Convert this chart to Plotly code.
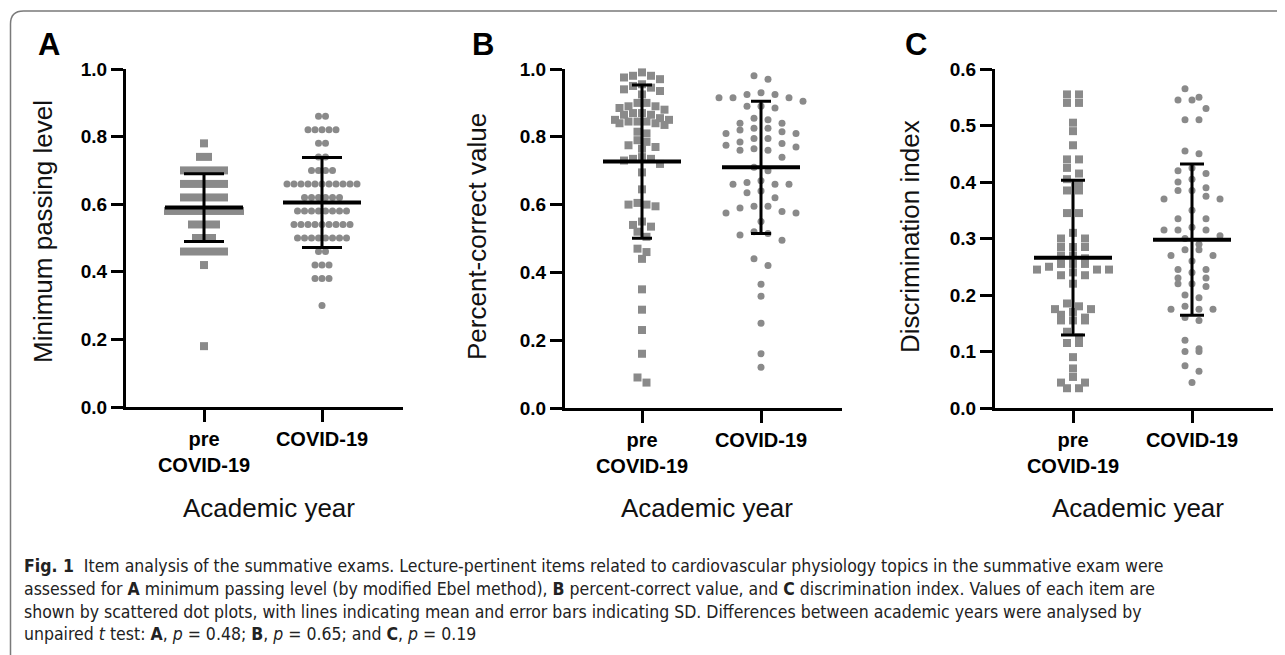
import plotly.graph_objects as go

W, H = 1285, 655
OFF = 8  # page body margin of the exported HTML

# ---------------- data ----------------
categories = ["pre<br>COVID-19", "COVID-19"]

# A: minimum passing level
mpl_pre = [0.78, 0.74, 0.74,
           0.70, 0.70, 0.70, 0.70, 0.70, 0.70,
           0.66, 0.66, 0.66, 0.66, 0.66, 0.66,
           0.62, 0.62, 0.62, 0.62, 0.62, 0.62,
           0.58, 0.58, 0.58, 0.58, 0.58, 0.58, 0.58, 0.58, 0.58, 0.58,
           0.54, 0.54, 0.54, 0.54,
           0.50, 0.50, 0.50,
           0.46, 0.46, 0.46, 0.46, 0.46, 0.46,
           0.42, 0.18]
mpl_covid = [0.86, 0.86,
             0.82, 0.82, 0.82, 0.82, 0.82,
             0.78, 0.78, 0.74, 0.74,
             0.70, 0.70, 0.70, 0.70,
             0.66, 0.66, 0.66, 0.66, 0.66, 0.66, 0.66, 0.66, 0.66, 0.66, 0.66,
             0.62, 0.62, 0.62, 0.62, 0.62, 0.62,
             0.58, 0.58, 0.58, 0.58, 0.58, 0.58, 0.58, 0.58,
             0.54, 0.54, 0.54, 0.54, 0.54, 0.54, 0.54, 0.54, 0.54,
             0.50, 0.50, 0.50, 0.50, 0.50, 0.50, 0.50, 0.50,
             0.46, 0.46, 0.42, 0.42, 0.42, 0.38, 0.38, 0.38, 0.30]
mpl_mean = [0.59, 0.605]
mpl_sd = [0.10, 0.133]

# B: percent-correct value
pcv_pre = [0.99, 0.98, 0.98, 0.975, 0.97, 0.955, 0.95, 0.945, 0.94, 0.935,
           0.925, 0.90, 0.90, 0.89, 0.89, 0.885, 0.88, 0.87, 0.87, 0.865,
           0.865, 0.855, 0.85, 0.85, 0.845, 0.845, 0.845, 0.84, 0.84, 0.835,
           0.815, 0.81, 0.79, 0.785, 0.775, 0.77, 0.765, 0.74, 0.735, 0.735,
           0.73, 0.72, 0.695, 0.645, 0.605, 0.60, 0.60, 0.595, 0.55, 0.54,
           0.535, 0.52, 0.505, 0.47, 0.46, 0.44, 0.35, 0.29, 0.23, 0.16,
           0.09, 0.075]
pcv_covid = [0.98, 0.97, 0.93, 0.925, 0.925, 0.915, 0.915, 0.915, 0.905, 0.89,
             0.89, 0.885, 0.855, 0.85, 0.84, 0.84, 0.825, 0.825, 0.82, 0.815,
             0.81, 0.81, 0.795, 0.795, 0.785, 0.78, 0.775, 0.77, 0.765, 0.76,
             0.76, 0.74, 0.71, 0.70, 0.67, 0.665, 0.66, 0.66, 0.66, 0.64,
             0.635, 0.62, 0.595, 0.595, 0.59, 0.58, 0.575, 0.575, 0.55, 0.52,
             0.515, 0.51, 0.495, 0.44, 0.42, 0.365, 0.33, 0.25, 0.16, 0.12]
pcv_mean = [0.727, 0.71]
pcv_sd = [0.226, 0.195]

# C: discrimination index
di_pre = [0.555, 0.555, 0.54, 0.54, 0.505, 0.49, 0.465, 0.44, 0.44, 0.425,
          0.415, 0.405, 0.395, 0.385, 0.385, 0.345, 0.345, 0.31, 0.30, 0.30,
          0.285, 0.285, 0.285, 0.27, 0.27, 0.265, 0.255, 0.255, 0.255, 0.25,
          0.245, 0.245, 0.245, 0.24, 0.235, 0.235, 0.22, 0.185, 0.18, 0.175,
          0.175, 0.17, 0.165, 0.16, 0.155, 0.155, 0.155, 0.135, 0.125, 0.115,
          0.115, 0.09, 0.07, 0.055, 0.045, 0.045, 0.035, 0.035]
di_covid = [0.565, 0.55, 0.545, 0.545, 0.53, 0.51, 0.51, 0.455, 0.45, 0.425,
            0.42, 0.415, 0.405, 0.40, 0.39, 0.385, 0.385, 0.375, 0.37, 0.37,
            0.35, 0.335, 0.335, 0.32, 0.315, 0.315, 0.315, 0.305, 0.30, 0.29,
            0.28, 0.28, 0.27, 0.27, 0.26, 0.245, 0.245, 0.24, 0.23, 0.23,
            0.22, 0.22, 0.215, 0.20, 0.195, 0.18, 0.175, 0.175, 0.175, 0.16,
            0.155, 0.12, 0.105, 0.10, 0.10, 0.075, 0.065, 0.045]
di_mean = [0.266, 0.298]
di_sd = [0.137, 0.134]

ticks_A = [0.0, 0.2, 0.4, 0.6, 0.8, 1.0]
ticks_B = [0.0, 0.2, 0.4, 0.6, 0.8, 1.0]
ticks_C = [0.0, 0.1, 0.2, 0.3, 0.4, 0.5, 0.6]

y_titles = ["Minimum passing level", "Percent-correct value", "Discrimination index"]
x_title = "Academic year"
letters = ["A", "B", "C"]

caption_lines = [
    "<b>Fig. 1</b>  Item analysis of the summative exams. Lecture-pertinent items related to cardiovascular physiology topics in the summative exam were",
    "assessed for <b>A</b> minimum passing level (by modified Ebel method), <b>B</b> percent-correct value, and <b>C</b> discrimination index. Values of each item are",
    "shown by scattered dot plots, with lines indicating mean and error bars indicating SD. Differences between academic years were analysed by",
    "unpaired <i>t</i> test: <b>A</b>, <i>p</i> = 0.48; <b>B</b>, <i>p</i> = 0.65; and <b>C</b>, <i>p</i> = 0.19",
]

# ---------------- layout geometry (screen pixels) ----------------
panels = [
    dict(vals=(mpl_pre, mpl_covid), mean=mpl_mean, sd=mpl_sd, ticks=ticks_A, ymax=1.0,
         x0=126, x1=403, c0=204, c1=322, ytop=69, ybot=407,
         sp=(8, 7), bin=(8, 8), cap=20, letter_x=49, ytitle_x=43, ytitle_y=232),
    dict(vals=(pcv_pre, pcv_covid), mean=pcv_mean, sd=pcv_sd, ticks=ticks_B, ymax=1.0,
         x0=565, x1=842, c0=642, c1=761, ytop=69, ybot=408,
         sp=(9, 14), bin=(8, 10), cap=10, letter_x=483, ytitle_x=477, ytitle_y=237),
    dict(vals=(di_pre, di_covid), mean=di_mean, sd=di_sd, ticks=ticks_C, ymax=0.6,
         x0=995, x1=1273, c0=1073, c1=1192, ytop=69, ybot=408,
         sp=(12, 14), bin=(8, 10), cap=12, letter_x=916, ytitle_x=910, ytitle_y=236),
]

GREY = "#8a8a8a"
FONT = "Liberation Sans, Arial, sans-serif"


def px(x):
    return (x - OFF) / W


def py(y):
    return 1 - (y - OFF) / H


def swarm(values, ypx_per_unit, xpx_per_unit, spacing_px, bin_px):
    order = sorted(range(len(values)), key=lambda i: -values[i])
    bins = []
    for i in order:
        if bins and (values[bins[-1][0]] - values[i]) * ypx_per_unit < bin_px:
            bins[-1].append(i)
        else:
            bins.append([i])
    offs = [0.0] * len(values)
    for b in bins:
        n = len(b)
        slots = [(k - (n - 1) / 2) * spacing_px for k in range(n)]
        slots.sort(key=lambda s: (abs(s), s))
        for i, s in zip(b, slots):
            offs[i] = s / xpx_per_unit
    return offs


fig = go.Figure()
layout = dict(width=W, height=H, margin=dict(l=0, r=0, t=0, b=0, pad=0, autoexpand=False),
              paper_bgcolor="white", plot_bgcolor="white", showlegend=False)
annotations = []
shapes = []

for k, p in enumerate(panels):
    sfx = "" if k == 0 else str(k + 1)
    xa, ya = "x" + sfx, "y" + sfx
    xpu = p["c1"] - p["c0"]                      # px per category unit
    xr = [-(p["c0"] - p["x0"]) / xpu, 1 + (p["x1"] - p["c1"]) / xpu]
    ypu = (p["ybot"] - p["ytop"]) / p["ymax"]    # px per y unit

    symbols = ["square", "circle"]
    sizes = [8, 7]
    for g in range(2):
        vals = p["vals"][g]
        offs = swarm(vals, ypu, xpu, p["sp"][g], p["bin"][g])
        fig.add_trace(go.Scatter(
            x=[g + o for o in offs], y=vals, mode="markers", xaxis=xa, yaxis=ya,
            marker=dict(symbol=symbols[g], size=sizes[g], color=GREY, line=dict(width=0)),
            cliponaxis=False, hoverinfo="y"))

    # mean lines
    hw = 39 / xpu
    mx, my = [], []
    for g in range(2):
        mx += [g - hw, g + hw, None]
        my += [p["mean"][g], p["mean"][g], None]
    fig.add_trace(go.Scatter(x=mx, y=my, mode="lines", xaxis=xa, yaxis=ya,
                             line=dict(color="black", width=4), cliponaxis=False,
                             hoverinfo="skip"))
    # SD error bars
    fig.add_trace(go.Scatter(x=[0, 1], y=p["mean"], mode="markers", xaxis=xa, yaxis=ya,
                             marker=dict(size=1, opacity=0),
                             error_y=dict(type="data", array=p["sd"], visible=True,
                                          width=p["cap"], thickness=3, color="black"),
                             cliponaxis=False, hoverinfo="skip"))

    axis_common = dict(showline=True, linewidth=3, linecolor="black", ticks="outside",
                       ticklen=12, tickwidth=3, tickcolor="black", showgrid=False,
                       zeroline=False, fixedrange=True, automargin=False)
    layout["xaxis" + sfx] = dict(
        domain=[px(p["x0"]), px(p["x1"])], range=xr, anchor=ya,
        tickvals=[0, 1], ticktext=categories,
        tickfont=dict(family=FONT, size=20, color="black", weight="bold"),
        **axis_common)
    layout["yaxis" + sfx] = dict(
        domain=[py(p["ybot"]), py(p["ytop"])], range=[0, p["ymax"]], anchor=xa,
        tickvals=p["ticks"], tickformat=".1f",
        tickfont=dict(family=FONT, size=19, color="black", weight="bold"),
        **axis_common)

    annotations.append(dict(text="<b>%s</b>" % letters[k], x=px(p["letter_x"]), y=py(44),
                            xref="paper", yref="paper", showarrow=False,
                            xanchor="center", yanchor="middle",
                            font=dict(family=FONT, size=31, color="black")))
    annotations.append(dict(text=y_titles[k], x=px(p["ytitle_x"]), y=py(p["ytitle_y"]),
                            xref="paper", yref="paper", showarrow=False, textangle=-90,
                            xanchor="center", yanchor="middle",
                            font=dict(family=FONT, size=26, color="#111111")))
    annotations.append(dict(text=x_title, x=px((p["x0"] + p["x1"]) / 2 + 4), y=py(508),
                            xref="paper", yref="paper", showarrow=False,
                            xanchor="center", yanchor="middle",
                            font=dict(family=FONT, size=26, color="#111111")))

cap_y = [566, 589, 612, 634]
for line, yy in zip(caption_lines, cap_y):
    annotations.append(dict(text=line, x=px(22), y=py(yy), xref="paper", yref="paper",
                            showarrow=False, xanchor="left", yanchor="middle",
                            font=dict(family="DejaVu Sans Condensed, Liberation Sans, sans-serif",
                                      size=17.5, color="#222222")))

# rounded frame (left + top border)
frame = "M %f,%f L %f,%f Q %f,%f %f,%f L %f,%f" % (
    px(10.5), py(700), px(10.5), py(24), px(10.5), py(11), px(23.5), py(11), px(1300), py(11))
shapes.append(dict(type="path", path=frame, xref="paper", yref="paper",
                   line=dict(color="#7a7a7a", width=1.5)))

layout["annotations"] = annotations
layout["shapes"] = shapes
fig.update_layout(**layout)
fig.write_html("out.html")
